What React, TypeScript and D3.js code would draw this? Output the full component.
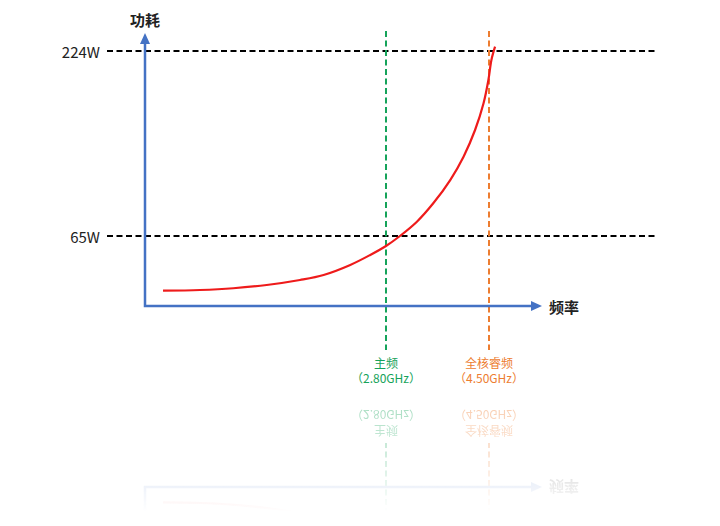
import * as d3 from 'd3';

// power level guides (W)
const POWER_LEVELS = [224, 65];
const POWER_LABELS = ['224W', '65W'];

// frequency markers (GHz)
const MARKER_FREQS = [2.8, 4.5];
const MARKER_NAMES = ['主频', '全核睿频'];
const MARKER_VALUES = ['（2.80GHz）', '（4.50GHz）'];

// power curve, frequency (GHz) vs power (W)
const CURVE_FREQ = [-0.88, -0.27, 0.28, 0.83, 1.38, 1.77, 2.21, 2.54, 2.8, 3.03, 3.31, 3.58, 3.86, 4.08, 4.27, 4.41, 4.49, 4.54, 4.6];
const CURVE_POWER = [18.0, 18.6, 20.1, 22.9, 27.2, 31.5, 40.1, 48.7, 56.4, 65, 77.3, 93.1, 113.1, 133.2, 156.1, 179.1, 199.1, 216.3, 227.7];

const Y_TITLE = '功耗';
const X_TITLE = '频率';

const W = 720;
const H = 526;
const ORIGIN = { x: 145, y: 306 };
const AXIS_END = { x: 542, y: 33 };
const GUIDE_X = [107, 658];
const MARKER_Y = [31, 350];
const MIRROR_Y = 396.5;

const BLUE = '#4472C4';
const MARKER_COLORS = ['#16a35a', '#ed7d31'];
const FONT = '"Noto Sans CJK SC", "Noto Sans", sans-serif';

const xScale = d3.scaleLinear().domain([2.8, 4.5]).range([386, 489]);
const yScale = d3.scaleLinear().domain([65, 224]).range([236, 51]);

const curvePts: [number, number][] = CURVE_FREQ.map((f, i) => [f, CURVE_POWER[i]]);
const line = d3
    .line<[number, number]>()
    .x(d => xScale(d[0]))
    .y(d => yScale(d[1]))
    .curve(d3.curveCatmullRom.alpha(0.5));

// mirror = the faded reflection, which only shows the lower part
const Chart = ({ mirror = false }: { mirror?: boolean }) => {
    return (
        <g fontFamily={FONT}>
            {/* horizontal power guides */}
            {!mirror && POWER_LEVELS.map((p, i) => (
                <g key={p}>
                    <line
                        x1={GUIDE_X[0]}
                        x2={GUIDE_X[1]}
                        y1={yScale(p)}
                        y2={yScale(p)}
                        stroke="#000"
                        strokeWidth={2}
                        strokeDasharray="6 3.5"
                    />
                    <text x={100} y={yScale(p)} textAnchor="end" dominantBaseline="central" fontSize={15} fill="#222">
                        {POWER_LABELS[i]}
                    </text>
                </g>
            ))}

            {/* frequency markers */}
            {MARKER_FREQS.map((f, i) => (
                <g key={f}>
                    <line
                        x1={xScale(f)}
                        x2={xScale(f)}
                        y1={mirror ? 250 : MARKER_Y[0]}
                        y2={MARKER_Y[1]}
                        stroke={MARKER_COLORS[i]}
                        strokeWidth={2}
                        strokeDasharray="6 3.5"
                    />
                    <text x={xScale(f)} y={362} textAnchor="middle" dominantBaseline="central" fontSize={12} fill={MARKER_COLORS[i]}>
                        {MARKER_NAMES[i]}
                    </text>
                    <text x={xScale(f)} y={377.5} textAnchor="middle" dominantBaseline="central" fontSize={12} fill={MARKER_COLORS[i]}>
                        {MARKER_VALUES[i]}
                    </text>
                </g>
            ))}

            {/* axes */}
            <path
                d={`M${ORIGIN.x},${mirror ? 250 : AXIS_END.y + 8}V${ORIGIN.y}H${AXIS_END.x - 8}`}
                fill="none"
                stroke={BLUE}
                strokeWidth={2.5}
            />
            {!mirror && <path d={`M${ORIGIN.x},${AXIS_END.y}l-5,11h10z`} fill={BLUE} />}
            <path d={`M${AXIS_END.x},${ORIGIN.y}l-11,-5v10z`} fill={BLUE} />
            {!mirror && (
                <text x={ORIGIN.x} y={19} textAnchor="middle" dominantBaseline="central" fontSize={15} fontWeight="bold" fill="#222">
                    {Y_TITLE}
                </text>
            )}
            <text x={549} y={ORIGIN.y} dominantBaseline="central" fontSize={15} fontWeight="bold" fill="#222">
                {X_TITLE}
            </text>

            {/* power curve */}
            <path d={line(curvePts) ?? ''} fill="none" stroke="#ee1b1b" strokeWidth={2.2} />
        </g>
    );
};

export default function App() {
    return (
        <svg width={W} height={H} style={{ position: 'absolute', left: 0, top: 0, background: '#fff' }}>
            <defs>
                <linearGradient id="fadeGrad" gradientUnits="userSpaceOnUse" x1={0} y1={MIRROR_Y} x2={0} y2={512}>
                    <stop offset="0" stopColor="#fff" stopOpacity={0.4} />
                    <stop offset="1" stopColor="#fff" stopOpacity={0} />
                </linearGradient>
                <mask id="fade" maskUnits="userSpaceOnUse" x={0} y={MIRROR_Y} width={W} height={H - MIRROR_Y}>
                    <rect x={0} y={MIRROR_Y} width={W} height={H - MIRROR_Y} fill="url(#fadeGrad)" />
                </mask>
            </defs>
            <Chart />
            {/* faded reflection below */}
            <g mask="url(#fade)">
                <g transform={`translate(0,${2 * MIRROR_Y}) scale(1,-1)`}>
                    <Chart mirror />
                </g>
            </g>
        </svg>
    );
}
